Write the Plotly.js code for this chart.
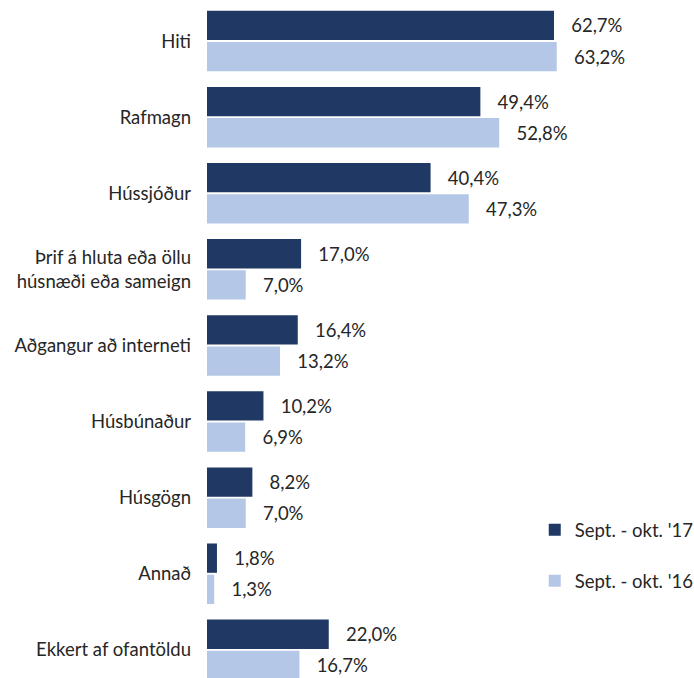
<!DOCTYPE html>
<html>
<head>
<meta charset="utf-8">
<script src="https://cdn.plot.ly/plotly-3.0.1.min.js"></script>
<style>html,body{margin:0;padding:0;background:#fff;}#chart{width:694px;height:678px;}</style>
</head>
<body>
<div id="chart"></div>
<script>
var categories = ["Hiti", "Rafmagn", "Hússjóður", "Þrif á hluta eða öllu<br>húsnæði eða sameign", "Aðgangur að interneti", "Húsbúnaður", "Húsgögn", "Annað", "Ekkert af ofantöldu"];
var series17Name = "Sept. - okt. '17";
var series16Name = "Sept. - okt. '16";
var values17 = [62.7, 49.4, 40.4, 17.0, 16.4, 10.2, 8.2, 1.8, 22.0];
var values16 = [63.2, 52.8, 47.3, 7.0, 13.2, 6.9, 7.0, 1.3, 16.7];

var pad = "\u00a0\u00a0\u00a0";
function fmt(v){ return pad + v.toFixed(1).replace('.', ',') + '%'; }

var labelFont = {family: "Lato, 'Open Sans', sans-serif", size: 18.5, color: '#262626'};

var traces = [
  {type: 'bar', orientation: 'h', name: series17Name, y: categories, x: values17,
   marker: {color: '#1f3864'}, text: values17.map(fmt), textposition: 'outside',
   textfont: labelFont, cliponaxis: false, legendgroup: 'a', hoverinfo: 'x+y'},
  {type: 'bar', orientation: 'h', name: series16Name, y: categories, x: values16,
   marker: {color: '#b4c7e7'}, text: values16.map(fmt), textposition: 'outside',
   textfont: labelFont, cliponaxis: false, legendgroup: 'b', hoverinfo: 'x+y'}
];

var layout = {
  width: 694, height: 678,
  margin: {l: 207, r: 0, t: 3, b: 0, autoexpand: false},
  paper_bgcolor: '#fff', plot_bgcolor: '#fff',
  barmode: 'group', bargap: 0.18, bargroupgap: 0.06,
  font: labelFont,
  xaxis: {range: [0, 88], showgrid: false, zeroline: false, showticklabels: false, showline: false, ticks: ''},
  yaxis: {type: 'category', range: [8.37, -0.5], showgrid: false, zeroline: false, showline: false,
          ticks: '', ticklabelstandoff: 15, tickfont: labelFont, automargin: false},
  showlegend: true,
  legend: {x: 0.673, xanchor: 'left', y: 0.247, yanchor: 'top', traceorder: 'grouped',
           tracegroupgap: 24, font: labelFont, bgcolor: 'rgba(0,0,0,0)', itemwidth: 30},
  uniformtext: {mode: false}
};

Plotly.newPlot('chart', traces, layout, {displayModeBar: false, staticPlot: true});
</script>
</body>
</html>
